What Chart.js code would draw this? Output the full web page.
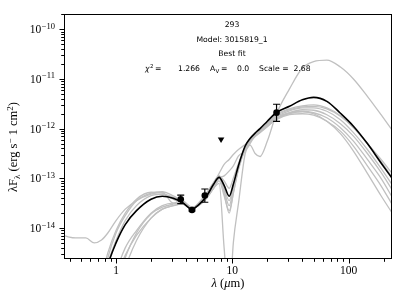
<!DOCTYPE html>
<html>
<head>
<meta charset="utf-8">
<script src="https://cdn.jsdelivr.net/npm/chart.js@4.4.1/dist/chart.umd.min.js"></script>
<style>
    html, body { margin: 0; padding: 0; background: #fff; }
</style>
</head>
<body>
<canvas id="sedChart" width="406" height="303"></canvas>
<script>
// model wavelength grid (micron)
const wavelength = [0.36, 0.45, 0.55, 0.65, 0.75, 0.85, 1.0, 1.2, 1.5, 2.0, 2.5, 3.1, 3.7, 4.5, 5.1, 6.0, 6.9, 7.7, 8.5, 9.4,
    10.2, 11.3, 12.9, 14.2, 15.7, 17.3, 20, 23.8, 31, 40, 50, 65, 85, 110, 145, 190, 240]

// log10 of lambda F_lambda for each model
const bestFit = [-17, -16.6, -16.2, -15.8, -15.3, -14.75, -14.3, -13.93, -13.65, -13.42, -13.36, -13.4, -13.48, -13.62, -13.54, -13.36, -13.12, -12.98, -13.14, -13.36,
    -13.12, -12.74, -12.35, -12.2, -12.09, -12.0, -11.85, -11.68, -11.55, -11.42, -11.37, -11.45, -11.69, -11.95, -12.3, -12.69, -13.02]

const otherFits = [
    [-14.16, -14.2, -14.2, -14.3, -14.24, -14.1, -13.85, -13.62, -13.45, -13.32, -13.28, -13.5, -13.45, -13.58, -13.52, -13.3, -13.1, -12.9, -12.72, -12.62,
        -12.52, -12.42, -12.32, -12.24, -12.15, -12.07, -11.95, -11.8, -11.68, -11.62, -11.63, -11.72, -11.9, -12.15, -12.5, -12.88, -13.25],
    [-17, -17, -17, -16.5, -16, -15.5, -15.0, -14.55, -14.15, -13.8, -13.62, -13.55, -13.52, -13.58, -13.55, -13.4, -13.2, -13.0, -12.95, -12.85,
        -12.75, -12.55, -12.45, -12.33, -12.5, -12.56, -12.25, -11.72, -11.2, -10.78, -10.65, -10.62, -10.76, -11.0, -11.35, -11.72, -12.05],
    [-17, -17, -17, -16.5, -16, -15.5, -14.9, -14.4, -14.05, -13.7, -13.55, -13.5, -13.5, -13.6, -13.55, -13.38, -13.2, -13.1, -14.4, -15.5,
        -14.3, -13.5, -12.5, -12.3, -12.15, -12.05, -11.92, -11.78, -11.68, -11.66, -11.7, -11.85, -12.1, -12.45, -12.9, -13.35, -13.72],
    [-17, -16.5, -16, -15.6, -15.2, -14.6, -14.1, -13.75, -13.45, -13.3, -13.27, -13.35, -13.45, -13.58, -13.52, -13.35, -13.12, -12.98, -13.25, -13.55,
        -13.2, -12.75, -12.38, -12.22, -12.12, -12.03, -11.9, -11.76, -11.64, -11.58, -11.58, -11.65, -11.82, -12.08, -12.42, -12.8, -13.15],
    [-17, -16.5, -16, -15.5, -15.0, -14.5, -14.05, -13.7, -13.42, -13.28, -13.3, -13.42, -13.5, -13.6, -13.5, -13.3, -13.08, -12.95, -13.3, -13.7,
        -13.3, -12.8, -12.4, -12.25, -12.14, -12.05, -11.92, -11.8, -11.7, -11.65, -11.68, -11.78, -11.98, -12.25, -12.62, -13.0, -13.4],
    [-17, -17, -17, -17, -16.6, -16.0, -15.2, -14.6, -14.1, -13.72, -13.58, -13.52, -13.5, -13.6, -13.52, -13.35, -13.15, -13.0, -13.2, -13.45,
        -13.15, -12.75, -12.4, -12.24, -12.13, -12.04, -11.9, -11.74, -11.62, -11.56, -11.55, -11.6, -11.75, -11.98, -12.3, -12.62, -12.92],
    [-17, -17, -17, -17, -16.4, -15.8, -15.4, -14.8, -14.25, -13.8, -13.62, -13.55, -13.52, -13.6, -13.55, -13.4, -13.2, -13.05, -13.35, -13.65,
        -13.3, -12.82, -12.42, -12.26, -12.16, -12.08, -11.96, -11.82, -11.72, -11.7, -11.73, -11.85, -12.05, -12.35, -12.75, -13.15, -13.55],
    [-17, -16.6, -16.1, -15.6, -15.1, -14.7, -14.25, -13.85, -13.55, -13.35, -13.32, -13.38, -13.46, -13.6, -13.54, -13.32, -13.1, -12.95, -13.05, -13.2,
        -13.0, -12.7, -12.36, -12.2, -12.1, -12.02, -11.88, -11.72, -11.6, -11.54, -11.52, -11.58, -11.74, -11.98, -12.3, -12.66, -13.0],
]

// photometry (erg s^-1 cm^-2)
const photWave = [3.6, 4.5, 5.8, 24]
const photFlux = [3.8e-14, 2.3e-14, 4.5e-14, 2.1e-12]
const photLow = [3.1e-14, 2.2e-14, 3.3e-14, 1.4e-12]
const photHigh = [4.6e-14, 2.42e-14, 6.1e-14, 3.1e-12]

// upper limits
const limitWave = [8.0]
const limitFlux = [6.1e-13]

// axis ticks
const xMajor = [1, 10, 100]
const xLabels = ['1', '10', '100']
const yMajor = [1e-14, 1e-13, 1e-12, 1e-11, 1e-10]
const yExponents = ['\u221214', '\u221213', '\u221212', '\u221211', '\u221210']

const SERIF = '"Liberation Serif"'
const SANS = '"DejaVu Sans"'

const modelPoints = (logs) => wavelength.map((w, i) => ({ x: w, y: Math.pow(10, logs[i]) }))

const datasets = []
datasets.push({
    label: 'detections',
    data: photWave.map((w, i) => ({ x: w, y: photFlux[i] })),
    showLine: false,
    pointRadius: 3.3,
    pointBackgroundColor: '#000',
    pointBorderColor: '#000',
    pointBorderWidth: 0,
    order: 0,
})
datasets.push({
    label: 'upper limits',
    data: limitWave.map((w, i) => ({ x: w, y: limitFlux[i] })),
    showLine: false,
    pointStyle: 'triangle',
    rotation: 180,
    pointRadius: 3.8,
    pointBackgroundColor: '#000',
    pointBorderColor: '#000',
    pointBorderWidth: 0,
    order: 0,
})
datasets.push({
    label: 'best fit',
    data: modelPoints(bestFit),
    borderColor: '#000',
    borderWidth: 1.6,
    pointRadius: 0,
    cubicInterpolationMode: 'monotone',
    order: 1,
})
otherFits.forEach((fit, i) => {
    datasets.push({
        label: 'fit ' + (i + 2),
        data: modelPoints(fit),
        borderColor: '#c0c0c0',
        borderWidth: 1.3,
        pointRadius: 0,
        cubicInterpolationMode: 'monotone',
        order: 2,
    })
})

// error bars for the detections
const errorBars = {
    id: 'errorBars',
    afterDatasetsDraw(chart) {
        const ctx = chart.ctx
        const x = chart.scales.x
        const y = chart.scales.y
        ctx.save()
        ctx.strokeStyle = '#000'
        ctx.lineWidth = 1.2
        photWave.forEach((w, i) => {
            const px = x.getPixelForValue(w)
            const top = y.getPixelForValue(photHigh[i])
            const bot = y.getPixelForValue(photLow[i])
            ctx.beginPath()
            ctx.moveTo(px, top)
            ctx.lineTo(px, bot)
            ctx.moveTo(px - 3.5, top)
            ctx.lineTo(px + 3.5, top)
            ctx.moveTo(px - 3.5, bot)
            ctx.lineTo(px + 3.5, bot)
            ctx.stroke()
        })
        ctx.restore()
    },
}

// matplotlib-like frame, ticks, labels and text
const axesFrame = {
    id: 'axesFrame',
    afterDraw(chart) {
        const ctx = chart.ctx
        const area = chart.chartArea
        const x = chart.scales.x
        const y = chart.scales.y
        ctx.save()
        ctx.strokeStyle = '#000'
        ctx.fillStyle = '#000'
        ctx.lineWidth = 1
        ctx.strokeRect(area.left + 0.5, area.top + 0.5, area.right - area.left - 1, area.bottom - area.top - 1)

        // x ticks
        ctx.beginPath()
        for (let e = -1; e <= 2; e++) {
            for (let k = 1; k <= 9; k++) {
                const v = k * Math.pow(10, e)
                if (v < x.min || v > x.max) continue
                const px = Math.round(x.getPixelForValue(v)) + 0.5
                const len = k === 1 ? 4.5 : 2.8
                ctx.moveTo(px, area.bottom)
                ctx.lineTo(px, area.bottom + len)
            }
        }
        // y ticks
        for (let e = -15; e <= -10; e++) {
            for (let k = 1; k <= 9; k++) {
                const v = k * Math.pow(10, e)
                if (v < y.min || v > y.max) continue
                const py = Math.round(y.getPixelForValue(v)) + 0.5
                const len = k === 1 ? 4.5 : 2.8
                ctx.moveTo(area.left, py)
                ctx.lineTo(area.left - len, py)
            }
        }
        ctx.stroke()

        // x tick labels
        ctx.font = '11.5px ' + SERIF
        ctx.textAlign = 'center'
        ctx.textBaseline = 'top'
        xMajor.forEach((v, i) => {
            ctx.fillText(xLabels[i], x.getPixelForValue(v), area.bottom + 6)
        })

        // y tick labels: 10 with superscript exponent
        ctx.textBaseline = 'alphabetic'
        yMajor.forEach((v, i) => {
            const py = y.getPixelForValue(v)
            ctx.font = '8.5px ' + SERIF
            const ew = ctx.measureText(yExponents[i]).width
            const right = area.left - 9
            ctx.textAlign = 'right'
            ctx.fillText(yExponents[i], right, py - 0.5)
            ctx.font = '11.5px ' + SERIF
            ctx.fillText('10', right - ew - 0.5, py + 4)
        })

        // x axis title
        ctx.textAlign = 'left'
        const xParts = [
            ['italic 12.5px ' + SERIF, '\u03bb'],
            ['12.5px ' + SERIF, ' ('],
            ['italic 12.5px ' + SERIF, '\u03bc'],
            ['12.5px ' + SERIF, 'm)'],
        ]
        let total = 0
        xParts.forEach((p) => { ctx.font = p[0]; total += ctx.measureText(p[1]).width })
        let cx = 228 - total / 2
        xParts.forEach((p) => {
            ctx.font = p[0]
            ctx.fillText(p[1], cx, 287)
            cx += ctx.measureText(p[1]).width
        })

        // y axis title, rotated
        const yParts = [
            ['12.5px ' + SERIF, '\u03bbF', 0],
            ['9px ' + SERIF, '\u03bb', 3],
            ['12.5px ' + SERIF, ' (erg s', 0],
            ['9px ' + SERIF, '\u2212', -4.5],
            ['12.5px ' + SERIF, ' 1 cm', 0],
            ['9px ' + SERIF, '2', -4.5],
            ['12.5px ' + SERIF, ')', 0],
        ]
        total = 0
        yParts.forEach((p) => { ctx.font = p[0]; total += ctx.measureText(p[1]).width })
        ctx.translate(17, 147)
        ctx.rotate(-Math.PI / 2)
        cx = -total / 2
        yParts.forEach((p) => {
            ctx.font = p[0]
            ctx.fillText(p[1], cx, p[2])
            cx += ctx.measureText(p[1]).width
        })
        ctx.setTransform(1, 0, 0, 1, 0, 0)

        // fit annotations
        ctx.font = '7.7px ' + SANS
        ctx.textAlign = 'center'
        ctx.textBaseline = 'middle'
        ctx.fillText('293', 232, 25)
        ctx.fillText('Model: 3015819_1', 232, 40)
        ctx.fillText('Best fit', 232, 54.5)
        ctx.textAlign = 'left'
        ctx.font = 'italic 7.7px ' + SANS
        ctx.fillText('\u03c7', 145, 69.5)
        ctx.font = '5.5px ' + SANS
        ctx.fillText('2', 150, 66.5)
        ctx.font = '7.7px ' + SANS
        ctx.fillText('=', 155, 69.5)
        ctx.fillText('1.266', 178, 69.5)
        ctx.fillText('A', 210, 69.5)
        ctx.font = '5.5px ' + SANS
        ctx.fillText('V', 215.5, 71.5)
        ctx.font = '7.7px ' + SANS
        ctx.fillText('=', 221, 69.5)
        ctx.fillText('0.0', 237, 69.5)
        ctx.fillText('Scale =  2.68', 259, 69.5)
        ctx.restore()
    },
}

new Chart(document.getElementById('sedChart'), {
    type: 'line',
    data: { datasets: datasets },
    options: {
        responsive: false,
        animation: false,
        layout: { padding: { top: 14, right: 14, left: 0, bottom: 0 } },
        plugins: {
            legend: { display: false },
            tooltip: { enabled: false },
        },
        scales: {
            x: {
                type: 'logarithmic',
                bounds: 'data',
                min: 0.357,
                max: 236,
                grid: { display: false },
                border: { display: false },
                ticks: { display: false },
                afterFit: (scale) => { scale.height = 44 },
            },
            y: {
                type: 'logarithmic',
                bounds: 'data',
                min: 2.38e-15,
                max: 2.03e-10,
                grid: { display: false },
                border: { display: false },
                ticks: { display: false },
                afterFit: (scale) => { scale.width = 64 },
            },
        },
    },
    plugins: [errorBars, axesFrame],
})
</script>
</body>
</html>
